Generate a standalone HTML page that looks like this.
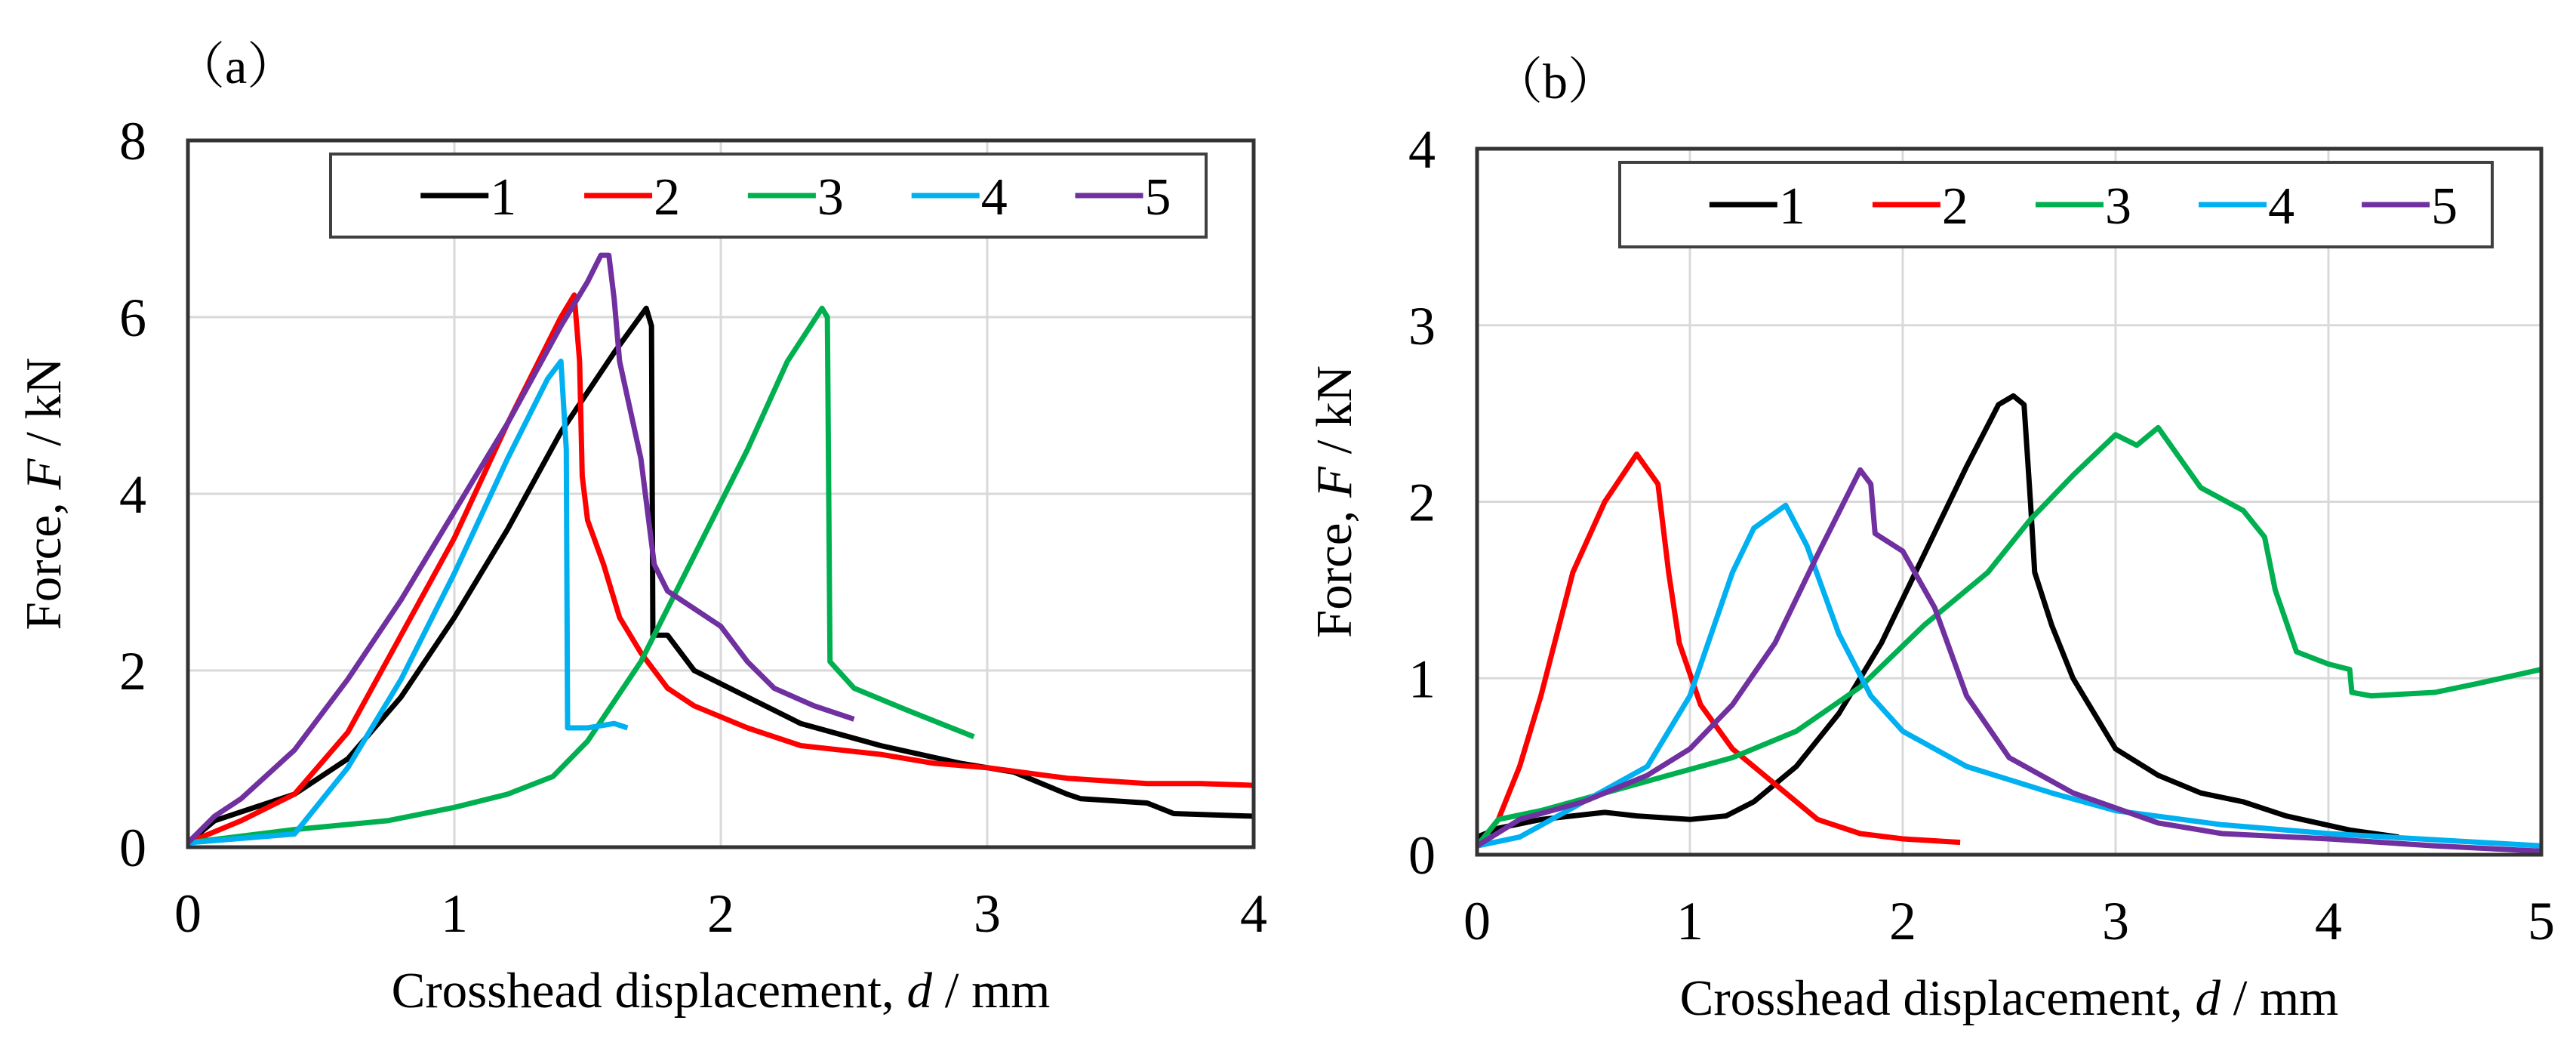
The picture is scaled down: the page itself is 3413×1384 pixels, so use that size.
<!DOCTYPE html>
<html><head><meta charset="utf-8"><style>
html,body{margin:0;padding:0;background:#fff;}
svg{display:block;font-family:"Liberation Serif",serif;}
</style></head><body>
<svg id="fig" width="3413" height="1384" viewBox="0 0 3413 1384"></svg>
<script>
// ---- data panel (a) ----
const aX1=[0,0.1,0.2,0.4,0.6,0.8,1.0,1.2,1.4,1.6,1.72,1.74,1.745,1.8,1.85,1.9,2.1,2.3,2.6,2.9,3.1,3.3,3.35,3.6,3.7,4.0];
const aY1=[0.05,0.3,0.4,0.6,1.0,1.7,2.6,3.6,4.7,5.6,6.1,5.9,2.4,2.4,2.2,2.0,1.7,1.4,1.15,0.95,0.85,0.6,0.55,0.5,0.38,0.35];
const aX2=[0,0.2,0.4,0.6,0.8,1.0,1.2,1.4,1.45,1.47,1.48,1.5,1.56,1.62,1.7,1.8,1.9,2.1,2.3,2.6,2.8,3.0,3.3,3.6,3.8,4.0];
const aY2=[0.05,0.3,0.6,1.3,2.4,3.5,4.8,6.0,6.25,5.5,4.2,3.7,3.2,2.6,2.2,1.8,1.6,1.35,1.15,1.05,0.95,0.9,0.78,0.72,0.72,0.7];
const aX3=[0,0.4,0.75,1.0,1.2,1.37,1.5,1.7,1.9,2.1,2.25,2.38,2.4,2.41,2.5,2.7,2.95];
const aY3=[0.05,0.2,0.3,0.45,0.6,0.8,1.2,2.1,3.3,4.5,5.5,6.1,6.0,2.1,1.8,1.55,1.25];
const aX4=[0,0.4,0.6,0.8,1.0,1.2,1.35,1.4,1.42,1.425,1.5,1.6,1.65];
const aY4=[0.05,0.15,0.9,1.9,3.1,4.4,5.3,5.5,4.5,1.35,1.35,1.4,1.35];
const aX5=[0,0.1,0.2,0.4,0.6,0.8,1.0,1.2,1.4,1.5,1.55,1.58,1.6,1.62,1.7,1.75,1.8,1.9,2.0,2.1,2.2,2.35,2.5];
const aY5=[0.05,0.35,0.55,1.1,1.9,2.8,3.8,4.8,5.9,6.4,6.7,6.7,6.2,5.5,4.4,3.2,2.9,2.7,2.5,2.1,1.8,1.6,1.45];
// ---- data panel (b) ----
const bX1=[0,0.1,0.3,0.6,0.75,1.0,1.17,1.3,1.5,1.7,1.9,2.1,2.3,2.45,2.52,2.57,2.6,2.62,2.7,2.8,3.0,3.2,3.4,3.6,3.8,4.1,4.33];
const bY1=[0.1,0.15,0.2,0.24,0.22,0.2,0.22,0.3,0.5,0.8,1.2,1.7,2.2,2.55,2.6,2.55,2.0,1.6,1.3,1.0,0.6,0.45,0.35,0.3,0.22,0.14,0.1];
const bX2=[0,0.1,0.2,0.3,0.45,0.6,0.75,0.85,0.9,0.95,1.05,1.2,1.4,1.6,1.8,2.0,2.27];
const bY2=[0.05,0.2,0.5,0.9,1.6,2.0,2.27,2.1,1.6,1.2,0.85,0.6,0.4,0.2,0.12,0.09,0.07];
const bX3=[0,0.1,0.3,0.6,0.9,1.2,1.5,1.8,2.1,2.4,2.6,2.8,3.0,3.1,3.2,3.3,3.4,3.6,3.7,3.75,3.85,4.0,4.1,4.11,4.2,4.5,4.7,5.0];
const bY3=[0.05,0.2,0.25,0.35,0.45,0.55,0.7,0.95,1.3,1.6,1.9,2.15,2.38,2.32,2.42,2.25,2.08,1.95,1.8,1.5,1.15,1.08,1.05,0.92,0.9,0.92,0.97,1.05];
const bX4=[0,0.2,0.5,0.8,1.0,1.2,1.3,1.45,1.55,1.7,1.85,2.0,2.3,2.7,3.0,3.5,4.0,5.0];
const bY4=[0.05,0.1,0.3,0.5,0.9,1.6,1.85,1.98,1.75,1.25,0.9,0.7,0.5,0.35,0.25,0.17,0.12,0.05];
const bX5=[0,0.2,0.5,0.8,1.0,1.2,1.4,1.6,1.8,1.85,1.87,2.0,2.15,2.3,2.5,2.8,3.2,3.5,4.0,4.5,5.0];
const bY5=[0.05,0.2,0.3,0.45,0.6,0.85,1.2,1.7,2.18,2.1,1.82,1.72,1.4,0.9,0.55,0.35,0.18,0.12,0.09,0.05,0.02];
const seriesNames=["1","2","3","4","5"];
const colors=["#000000","#ff0000","#00b050","#00b0f0","#7030a0"];
const aXTicks=[0,1,2,3,4], aYTicks=[0,2,4,6,8];
const bXTicks=[0,1,2,3,4,5], bYTicks=[0,1,2,3,4];

const NS="http://www.w3.org/2000/svg";
const svg=document.getElementById('fig');
function mk(tag,attrs,parent,text){const e=document.createElementNS(NS,tag);for(const k in attrs)e.setAttribute(k,attrs[k]);if(text!==undefined)e.textContent=text;(parent||svg).appendChild(e);return e;}

function panel(p){
  const g=mk('g',{});
  
  
  const sx=v=>p.L+(v-p.xmin)/(p.xmax-p.xmin)*(p.R-p.L);
  const sy=v=>p.B-(v-p.ymin)/(p.ymax-p.ymin)*(p.B-p.T);
  p.xt.forEach(t=>{
    if(t>p.xmin&&t<p.xmax){const l=mk('line',{x1:sx(t),x2:sx(t),y1:p.T,y2:p.B,stroke:'#d9d9d9','stroke-width':3},g);
    }
    const tx=mk('text',{x:sx(t),y:p.B+112,'font-size':72,'text-anchor':'middle'},g,String(t));
    
  });
  p.yt.forEach(t=>{
    if(t>p.ymin&&t<p.ymax){const l=mk('line',{x1:p.L,x2:p.R,y1:sy(t),y2:sy(t),stroke:'#d9d9d9','stroke-width':3},g);
    }
    const tx=mk('text',{x:p.L-55,y:sy(t)+25,'font-size':72,'text-anchor':'end'},g,String(t));
    
  });
  p.data.forEach((s,i)=>{
    const d=s[0].map((x,j)=>(j?'L':'M')+sx(x).toFixed(1)+','+sy(s[1][j]).toFixed(1)).join(' ');
    const path=mk('path',{d:d,fill:'none',stroke:colors[i],'stroke-width':7,'stroke-linejoin':'round'},g);
    
    
  });
  const fr=mk('rect',{x:p.L,y:p.T,width:p.R-p.L,height:p.B-p.T,fill:'none',stroke:'#333','stroke-width':5},g);
  
  const lg=mk('g',{},g);
  
  mk('rect',{x:p.lg[0],y:p.lg[1],width:p.lg[2]-p.lg[0],height:p.lg[3]-p.lg[1],fill:'#fff',stroke:'#404040','stroke-width':4},lg);
  const step=(p.lg[2]-p.lg[0])/5.35;
  seriesNames.forEach((n,i)=>{
    const x0=p.lg[0]+step*(0.45+i*1.0)+step*0.1, yc=(p.lg[1]+p.lg[3])/2;
    const e=mk('g',{},lg);
    
    mk('line',{x1:x0,x2:x0+90,y1:yc,y2:yc,stroke:colors[i],'stroke-width':7},e);
    mk('text',{x:x0+92,y:yc+25,'font-size':70},e,n);
  });
  const yt=mk('text',{x:p.ytx,y:(p.T+p.B)/2,'font-size':67,'text-anchor':'middle',transform:`rotate(-90 ${p.ytx} ${(p.T+p.B)/2})`},g);
  
  yt.innerHTML='Force, <tspan font-style="italic">F</tspan> / kN';
  const xt=mk('text',{x:(p.L+p.R)/2,y:p.B+212,'font-size':67,'text-anchor':'middle'},g);
  
  xt.innerHTML='Crosshead displacement, <tspan font-style="italic">d</tspan> / mm';
  const pl=mk('text',{x:p.plx,y:p.ply,'font-size':66,'font-family':'"Liberation Serif","Noto Serif CJK SC",serif'},g,'（'+p.id+'）');
  
}
panel({id:'a',L:249,R:1661,T:186,B:1122,xmin:0,xmax:4,ymin:0,ymax:8,xt:aXTicks,yt:aYTicks,
  data:[[aX1,aY1],[aX2,aY2],[aX3,aY3],[aX4,aY4],[aX5,aY5]],lg:[438,204,1598,314],ytx:80,plx:232,ply:110});
panel({id:'b',L:1957,R:3367,T:197,B:1132,xmin:0,xmax:5,ymin:0,ymax:4,xt:bXTicks,yt:bYTicks,
  data:[[bX1,bY1],[bX2,bY2],[bX3,bY3],[bX4,bY4],[bX5,bY5]],lg:[2146,215,3302,327],ytx:1790,plx:1978,ply:130});
</script>
</body></html>
